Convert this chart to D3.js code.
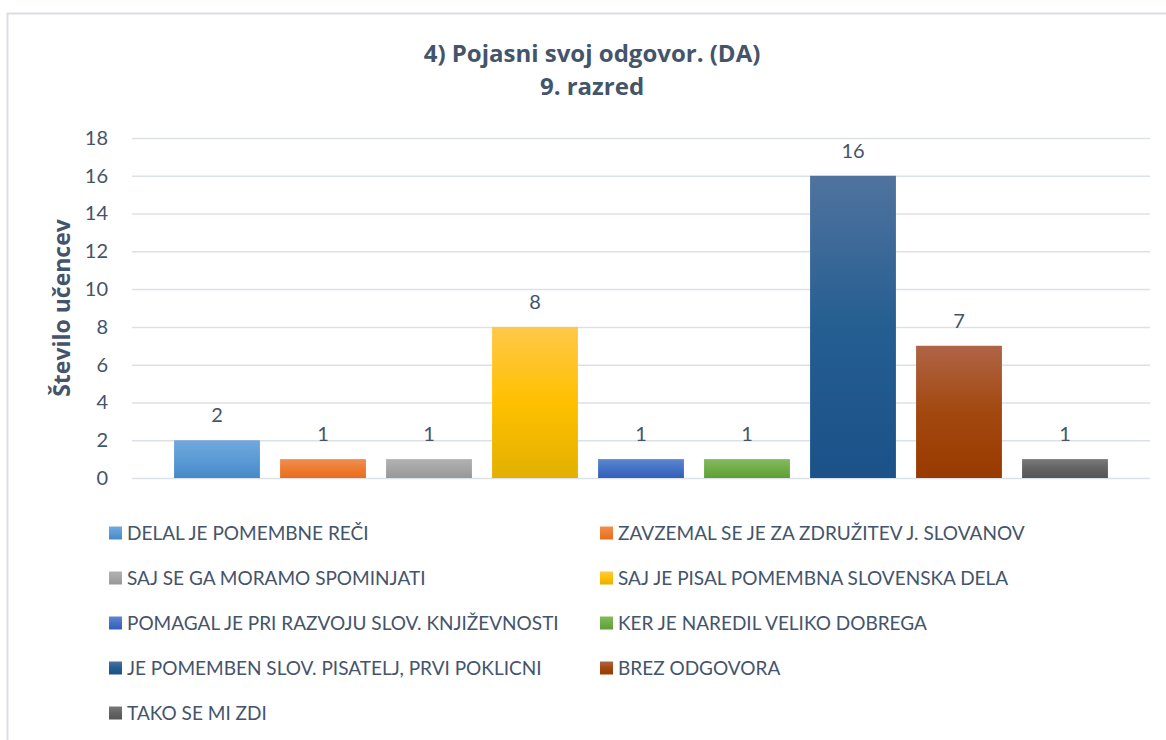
<!DOCTYPE html>
<html>
<head>
<meta charset="utf-8">
<script src="https://cdn.jsdelivr.net/npm/d3@7"></script>
<style>
  html, body { margin: 0; padding: 0; background: #fff; }
  svg { display: block; font-family: Lato, "Open Sans", sans-serif; }
</style>
</head>
<body>
<svg id="chart" width="1166" height="740"></svg>
<script>
const titleLines = ["4) Pojasni svoj odgovor. (DA)", "9. razred"];
const yAxisTitle = "Število učencev";
const categories = [
  "DELAL JE POMEMBNE REČI",
  "ZAVZEMAL SE JE ZA ZDRUŽITEV J. SLOVANOV",
  "SAJ SE GA MORAMO SPOMINJATI",
  "SAJ JE PISAL POMEMBNA SLOVENSKA DELA",
  "POMAGAL JE PRI RAZVOJU SLOV. KNJIŽEVNOSTI",
  "KER JE NAREDIL VELIKO DOBREGA",
  "JE POMEMBEN SLOV. PISATELJ, PRVI POKLICNI",
  "BREZ ODGOVORA",
  "TAKO SE MI ZDI"
];
const values = [2, 1, 1, 8, 1, 1, 16, 7, 1];
const yTicks = [0, 2, 4, 6, 8, 10, 12, 14, 16, 18];
// gradient stops per bar: [top, middle, bottom]
const barColors = [
  ["#72A8DD", "#5B9BD5", "#4788C8"],
  ["#F18D52", "#ED7D31", "#E86D1C"],
  ["#B2B2B2", "#A5A5A5", "#979797"],
  ["#FFC84A", "#FFC000", "#E2B000"],
  ["#5E86D2", "#4472C4", "#335FB8"],
  ["#83BA5F", "#70AD47", "#5E9F35"],
  ["#50739F", "#255E91", "#1A5289"],
  ["#B06446", "#A2480F", "#993B00"],
  ["#797979", "#636363", "#555555"]
];

const textColor = "#44546A";
const gridColor = "#DCE1E8";

const svg = d3.select("#chart");

// outer border
svg.append("rect")
  .attr("x", 7.5).attr("y", 13.5)
  .attr("width", 1175).attr("height", 760)
  .attr("fill", "#fff")
  .attr("stroke", "#D9DEE5").attr("stroke-width", 2);

// gradients
const defs = svg.append("defs");
barColors.forEach((c, i) => {
  const g = defs.append("linearGradient")
    .attr("id", "grad" + i)
    .attr("x1", 0).attr("y1", 0).attr("x2", 0).attr("y2", 1);
  g.append("stop").attr("offset", "0%").attr("stop-color", c[0]);
  g.append("stop").attr("offset", "50%").attr("stop-color", c[1]);
  g.append("stop").attr("offset", "100%").attr("stop-color", c[2]);
});

// title
svg.append("text")
  .attr("x", 592).attr("y", 62)
  .attr("text-anchor", "middle")
  .attr("font-family", "'Open Sans', sans-serif")
  .attr("font-weight", "bold").attr("font-size", 24)
  .attr("fill", textColor)
  .selectAll("tspan").data(titleLines).join("tspan")
  .attr("x", 592).attr("dy", (d, i) => i === 0 ? 0 : 33)
  .text(d => d);

const gridLeft = 132, gridRight = 1150;
const y = d3.scaleLinear().domain([0, 18]).range([478, 138]);
const x = d3.scaleBand().domain(categories).range([164, 1118])
  .paddingInner(0.19).paddingOuter(0.095);

// y axis with gridlines
const yAxis = svg.append("g")
  .attr("transform", `translate(${gridLeft},0)`)
  .call(d3.axisLeft(y).tickValues(yTicks).tickSize(-(gridRight - gridLeft)).tickPadding(24));
yAxis.select(".domain").remove();
yAxis.selectAll(".tick line").attr("stroke", gridColor).attr("stroke-width", 1.5);
yAxis.selectAll(".tick text")
  .attr("fill", textColor).attr("font-size", 20)
  .attr("font-family", "Lato, 'Open Sans', sans-serif");

// y axis title
svg.append("text")
  .attr("transform", `translate(70,308) rotate(-90)`)
  .attr("text-anchor", "middle")
  .attr("font-family", "'Open Sans', sans-serif")
  .attr("font-weight", "bold").attr("font-size", 23)
  .attr("fill", textColor)
  .text(yAxisTitle);

// bars
svg.append("g").selectAll("rect").data(values).join("rect")
  .attr("x", (d, i) => x(categories[i]))
  .attr("y", d => y(d))
  .attr("width", x.bandwidth())
  .attr("height", d => y(0) - y(d))
  .attr("fill", (d, i) => `url(#grad${i})`);

// data labels
svg.append("g").selectAll("text").data(values).join("text")
  .attr("x", (d, i) => x(categories[i]) + x.bandwidth() / 2)
  .attr("y", d => y(d) - 18)
  .attr("text-anchor", "middle")
  .attr("font-size", 20)
  .attr("fill", textColor)
  .text(d => d);

// legend
const legend = svg.append("g");
const colX = [109, 600];
categories.forEach((c, i) => {
  const col = i % 2, row = Math.floor(i / 2);
  const cy = 533 + row * 45;
  legend.append("rect")
    .attr("x", colX[col]).attr("y", cy - 6.5)
    .attr("width", 13).attr("height", 13)
    .attr("fill", `url(#grad${i})`);
  legend.append("text")
    .attr("x", colX[col] + 18).attr("y", cy)
    .attr("dy", "0.35em")
    .attr("font-size", 19)
    .attr("fill", textColor)
    .text(c);
});
</script>
</body>
</html>
